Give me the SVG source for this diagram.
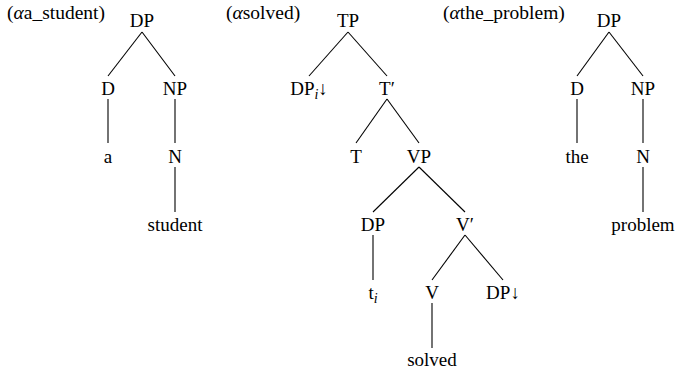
<svg xmlns="http://www.w3.org/2000/svg" width="675" height="370" viewBox="0 0 675 370">
<style>
text{font-family:"Liberation Serif",serif;font-size:19px;fill:#000;text-anchor:middle}
text.lbl{text-anchor:start;font-size:19.5px}
.it{font-style:italic}
.sub{font-size:14px;font-style:italic}
#edges line{stroke:#000;stroke-width:1.1}
</style>
<rect width="675" height="370" fill="#fff"/>
<g id="edges">
<line x1="142" y1="32" x2="108" y2="76"/>
<line x1="142" y1="32" x2="175" y2="76"/>
<line x1="108" y1="99" x2="108" y2="143"/>
<line x1="175" y1="99" x2="175" y2="143"/>
<line x1="175" y1="167" x2="175" y2="212"/>
<line x1="348" y1="32" x2="309" y2="76"/>
<line x1="348" y1="32" x2="387" y2="76"/>
<line x1="387" y1="99" x2="356" y2="143"/>
<line x1="387" y1="99" x2="419" y2="143"/>
<line x1="419" y1="167" x2="373" y2="212"/>
<line x1="419" y1="167" x2="465" y2="212"/>
<line x1="373" y1="235" x2="373" y2="280"/>
<line x1="465" y1="235" x2="432" y2="280"/>
<line x1="465" y1="235" x2="503" y2="280"/>
<line x1="432" y1="303" x2="432" y2="348"/>
<line x1="609" y1="32" x2="577" y2="76"/>
<line x1="609" y1="32" x2="643" y2="76"/>
<line x1="577" y1="99" x2="577" y2="143"/>
<line x1="643" y1="99" x2="643" y2="143"/>
<line x1="643" y1="167" x2="643" y2="212"/>
</g>
<g id="label1"><text class="lbl" x="7" y="19">(<tspan class="it">α</tspan>a_student)</text></g>
<g id="label2"><text class="lbl" x="226" y="19">(<tspan class="it">α</tspan>solved)</text></g>
<g id="label3"><text class="lbl" x="443" y="19">(<tspan class="it">α</tspan>the_problem)</text></g>
<g id="t1-DP"><text x="142" y="27">DP</text></g>
<g id="t1-D"><text x="108" y="95">D</text></g>
<g id="t1-NP"><text x="175" y="95">NP</text></g>
<g id="t1-a"><text x="108" y="163">a</text></g>
<g id="t1-N"><text x="175" y="163">N</text></g>
<g id="t1-student"><text x="175" y="231">student</text></g>
<g id="t2-TP"><text x="348" y="27">TP</text></g>
<g id="t2-DPi"><text x="309" y="95">DP<tspan class="sub" dy="4">i</tspan><tspan dy="-4">↓</tspan></text></g>
<g id="t2-Tbar"><text x="387" y="95">T′</text></g>
<g id="t2-T"><text x="356" y="163">T</text></g>
<g id="t2-VP"><text x="419" y="163">VP</text></g>
<g id="t2-DP"><text x="373" y="231">DP</text></g>
<g id="t2-Vbar"><text x="465" y="231">V′</text></g>
<g id="t2-ti"><text x="373" y="299">t<tspan class="sub" dy="4">i</tspan></text></g>
<g id="t2-V"><text x="432" y="299">V</text></g>
<g id="t2-DPdown"><text x="503" y="299">DP↓</text></g>
<g id="t2-solved"><text x="432" y="366">solved</text></g>
<g id="t3-DP"><text x="609" y="27">DP</text></g>
<g id="t3-D"><text x="577" y="95">D</text></g>
<g id="t3-NP"><text x="643" y="95">NP</text></g>
<g id="t3-the"><text x="577" y="163">the</text></g>
<g id="t3-N"><text x="643" y="163">N</text></g>
<g id="t3-problem"><text x="643" y="231">problem</text></g>
</svg>
